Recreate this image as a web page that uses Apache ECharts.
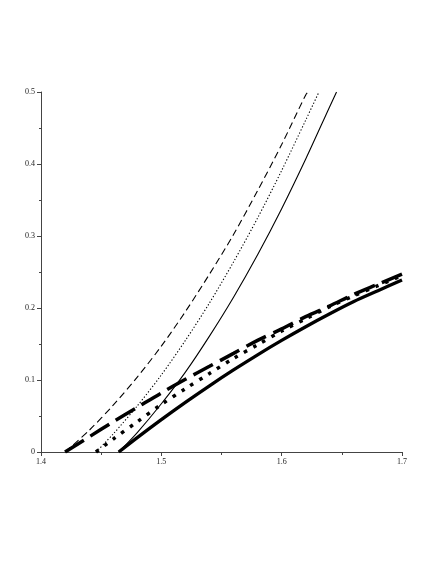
<!DOCTYPE html>
<html>
<head>
<meta charset="utf-8">
<script src="https://cdn.jsdelivr.net/npm/echarts@6/dist/echarts.min.js"></script>
<style>html,body{margin:0;padding:0;background:#fff}#c{width:436px;height:564px}</style>
</head>
<body>
<div id="c"></div>
<script>
// Tick labels
const xTicks = [1.4, 1.5, 1.6, 1.7];
const yTicks = [0, 0.1, 0.2, 0.3, 0.4, 0.5];

// Thin dashed curve
const thinDashX = [1.42, 1.44, 1.46, 1.48, 1.50, 1.52, 1.54, 1.56, 1.58, 1.60, 1.62, 1.622];
const thinDashY = [0, 0.030, 0.065, 0.104, 0.147, 0.195, 0.247, 0.302, 0.363, 0.427, 0.496, 0.5];

// Thin dotted curve
const thinDotX = [1.4457, 1.46, 1.48, 1.50, 1.52, 1.54, 1.56, 1.58, 1.60, 1.62, 1.631];
const thinDotY = [0, 0.025, 0.064, 0.107, 0.155, 0.207, 0.264, 0.325, 0.391, 0.461, 0.5];

// Thin solid curve
const thinSolidX = [1.4646, 1.48, 1.50, 1.52, 1.54, 1.56, 1.58, 1.60, 1.62, 1.64, 1.6456];
const thinSolidY = [0, 0.027, 0.067, 0.111, 0.161, 0.215, 0.274, 0.338, 0.407, 0.480, 0.5];

// Thick dashed curve
const thickDashX = [1.42, 1.44, 1.46, 1.48, 1.50, 1.52, 1.54, 1.56, 1.58, 1.60, 1.62, 1.64, 1.66, 1.68, 1.70];
const thickDashY = [0, 0.021, 0.042, 0.062, 0.082, 0.101, 0.119, 0.137, 0.155, 0.171, 0.188, 0.203, 0.219, 0.233, 0.247];

// Thick dotted curve
const thickDotX = [1.4457, 1.46, 1.48, 1.50, 1.52, 1.54, 1.56, 1.58, 1.60, 1.62, 1.64, 1.66, 1.68, 1.70];
const thickDotY = [0, 0.018, 0.042, 0.066, 0.088, 0.109, 0.130, 0.149, 0.168, 0.185, 0.202, 0.217, 0.231, 0.245];

// Thick solid curve
const thickSolidX = [1.4646, 1.48, 1.50, 1.52, 1.54, 1.56, 1.58, 1.60, 1.62, 1.64, 1.66, 1.68, 1.70];
const thickSolidY = [0, 0.020, 0.045, 0.069, 0.092, 0.114, 0.135, 0.155, 0.174, 0.192, 0.209, 0.224, 0.239];

const zip = (xs, ys) => xs.map((x, i) => [x, ys[i]]);

function mk(xs, ys, width, type, cap) {
  return {
    type: 'line',
    data: zip(xs, ys),
    showSymbol: false,
    symbol: 'none',
    smooth: 0.3,
    clip: true,
    silent: true,
    lineStyle: { color: '#000', width: width, type: type, cap: cap || 'butt' }
  };
}

const chart = echarts.init(document.getElementById('c'), null, { renderer: 'canvas' });
const font = { fontFamily: 'Liberation Serif', fontSize: 8, color: '#222' };
chart.setOption({
  animation: false,
  backgroundColor: '#fff',
  grid: { left: 41, right: 34, top: 92, bottom: 112, containLabel: false },
  xAxis: {
    type: 'value', min: 1.4, max: 1.7, interval: 0.1,
    axisLine: { show: true, lineStyle: { color: '#444', width: 1 } },
    axisTick: { show: true, length: 4, lineStyle: { color: '#444' } },
    minorTick: { show: true, splitNumber: 2, length: 3, lineStyle: { color: '#444' } },
    splitLine: { show: false },
    axisLabel: Object.assign({ margin: 6, formatter: v => (xTicks.indexOf(+v.toFixed(1)) >= 0 ? v.toFixed(1) : '') }, font)
  },
  yAxis: {
    type: 'value', min: 0, max: 0.5, interval: 0.1,
    axisLine: { show: true, lineStyle: { color: '#444', width: 1 } },
    axisTick: { show: true, length: 4, lineStyle: { color: '#444' } },
    minorTick: { show: true, splitNumber: 2, length: 2, lineStyle: { color: '#444' } },
    splitLine: { show: false },
    axisLabel: Object.assign({ margin: 6, formatter: v => { const r = +v.toFixed(1); return yTicks.indexOf(r) >= 0 ? (r === 0 ? '0' : r.toFixed(1)) : ''; } }, font)
  },
  series: [
    mk(thinDashX, thinDashY, 1.1, [7, 4]),
    mk(thinDotX, thinDotY, 1.1, [1.3, 2]),
    mk(thinSolidX, thinSolidY, 1.1, 'solid'),
    mk(thickDashX, thickDashY, 3.5, [22, 8]),
    mk(thickDotX, thickDotY, 3.5, [3.5, 7]),
    mk(thickSolidX, thickSolidY, 3.3, 'solid')
  ]
});
</script>
</body>
</html>
